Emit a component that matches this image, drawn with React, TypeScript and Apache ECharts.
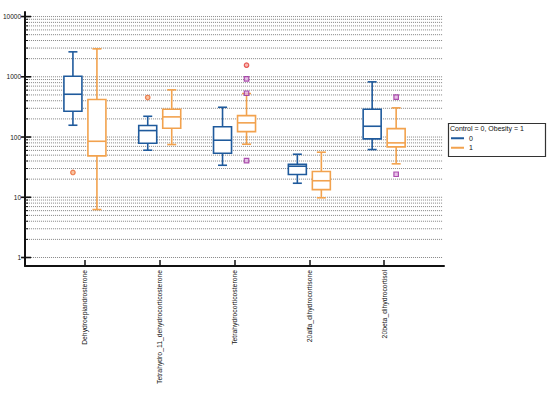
import React, { useEffect, useRef } from "react";
import * as echarts from "echarts";

const categories = [
  "Dehydroepiandrosterone",
  "Tetrahydro_11_dehydrocorticosterone",
  "Tetrahydrocorticosterone",
  "20alfa_dihydrocortisone",
  "20beta_dihydrocortisol",
];
const categoryPositions = [1, 2, 3, 4, 5];

// [min, Q1, median, Q3, max]
const controlStats = [
  [157, 268, 513, 1021, 2595],
  [60.4, 78.9, 128, 155, 221],
  [34.0, 53.8, 88.5, 148, 312],
  [17.1, 23.9, 32.8, 35.4, 51.8],
  [62, 93.3, 151, 289, 824],
];
const obesityStats = [
  [6.26, 48.7, 85, 419, 2910],
  [75, 140, 216, 289, 607],
  [76, 123, 172, 227, 527],
  [9.8, 13.4, 18.8, 26.8, 56],
  [35.9, 68.7, 80, 138, 305],
];

// outliers [category position, value]
const controlOutliers = [
  [1, 25.8],
  [2, 453],
];
const obesityFarOutliers = [[3, 1560]];
const obesityOutliers = [
  [3, 925],
  [3, 533],
  [3, 40.6],
  [5, 458],
  [5, 24.1],
];

const gridValues = [
  1, 2, 3, 4, 5, 6, 7, 8, 9,
  10, 20, 30, 40, 50, 60, 70, 80, 90,
  100, 200, 300, 400, 500, 600, 700, 800, 900,
  1000, 2000, 3000, 4000, 5000, 6000, 7000, 8000, 9000,
  10000,
];

const X_MIN = 0.2;
const X_MAX = 5.8;
const BLUE = "#1F5A9C";
const ORANGE = "#F2A24E";
const FONT = "Liberation Sans";

function isDecade(v: number) {
  const l = Math.log10(v);
  return Math.abs(l - Math.round(l)) < 1e-6;
}

function boxRenderer(color: string, pxOffset: number) {
  return (params: any, api: any) => {
    const x = api.value(0);
    const vals = [1, 2, 3, 4, 5].map((i) => api.value(i));
    const cx = api.coord([x, vals[2]])[0] + pxOffset;
    const y = vals.map((v: number) => api.coord([x, v])[1]);
    const hw = 9;
    const cw = 4.5;
    const style = { stroke: color, lineWidth: 1.6, fill: "none" };
    return {
      type: "group",
      children: [
        { type: "line", shape: { x1: cx, y1: y[3], x2: cx, y2: y[4] }, style },
        { type: "line", shape: { x1: cx, y1: y[1], x2: cx, y2: y[0] }, style },
        { type: "line", shape: { x1: cx - cw, y1: y[4], x2: cx + cw, y2: y[4] }, style },
        { type: "line", shape: { x1: cx - cw, y1: y[0], x2: cx + cw, y2: y[0] }, style },
        {
          type: "rect",
          shape: { x: cx - hw, y: y[3], width: hw * 2, height: y[1] - y[3] },
          style: { stroke: color, lineWidth: 1.6, fill: "#fff" },
        },
        { type: "line", shape: { x1: cx - hw, y1: y[2], x2: cx + hw, y2: y[2] }, style },
      ],
    };
  };
}

export default function App() {
  const ref = useRef<HTMLDivElement>(null);
  useEffect(() => {
    document.body.style.margin = "0";
    if (!ref.current) return;
    const chart = echarts.init(ref.current, null, { renderer: "svg" });
    const option: any = {
      animation: false,
      backgroundColor: "#fff",
      textStyle: { fontFamily: FONT },
      grid: { left: 24, right: 106, top: 12, bottom: 129 },
      xAxis: {
        type: "value",
        min: X_MIN,
        max: X_MAX,
        axisLine: { show: true, lineStyle: { color: "#111", width: 2 } },
        axisTick: {
          show: true,
          inside: true,
          length: 6,
          customValues: categoryPositions,
          lineStyle: { color: "#111", width: 1.5 },
        },
        axisLabel: {
          show: true,
          customValues: categoryPositions,
          rotate: 90,
          margin: 4,
          fontSize: 6.8,
          color: "#111",
          fontFamily: FONT,
          formatter: (v: number) => categories[Math.round(v) - 1] || "",
        },
        splitLine: { show: false },
      },
      yAxis: {
        type: "log",
        logBase: 10,
        min: 0.723,
        max: 11900,
        axisLine: { show: true, lineStyle: { color: "#111", width: 2 } },
        axisTick: { show: false },
        splitLine: { show: false },
        minorTick: { show: false },
        axisLabel: {
          fontSize: 6.5,
          margin: 4,
          color: "#111",
          fontFamily: FONT,
          formatter: (v: number) => (isDecade(v) ? String(Math.round(v)) : ""),
        },
      },
      legend: {
        data: [
          { name: "0", icon: "rect" },
          { name: "1", icon: "rect" },
        ],
        orient: "vertical",
        left: 451,
        top: 133.5,
        itemWidth: 13,
        itemHeight: 2,
        itemGap: 0,
        padding: 0,
        textStyle: { fontSize: 7, lineHeight: 9.5, color: "#111", fontFamily: FONT },
        selectedMode: false,
      },
      graphic: [
        {
          type: "rect",
          left: 446,
          top: 121,
          shape: { width: 97, height: 33 },
          style: { fill: "none", stroke: "#333", lineWidth: 1.2 },
          silent: true,
        },
        {
          type: "text",
          left: 450,
          top: 125,
          style: {
            text: "Control = 0, Obesity = 1",
            fontSize: 7,
            fontFamily: FONT,
            fill: "#111",
          },
          silent: true,
        },
      ],
      series: [
        {
          name: "grid",
          type: "custom",
          silent: true,
          z: 1,
          data: gridValues.map((v) => [X_MIN, v]),
          encode: { x: 0, y: 1 },
          renderItem: (params: any, api: any) => {
            const v = api.value(1);
            const cs = params.coordSys;
            const y = api.coord([X_MIN, v])[1];
            const major = isDecade(v);
            return {
              type: "group",
              children: [
                {
                  type: "line",
                  shape: { x1: cs.x, y1: y, x2: cs.x + cs.width - 1, y2: y },
                  style: { stroke: "#666", lineWidth: 0.8, lineDash: [1, 1] },
                },
                {
                  type: "line",
                  shape: {
                    x1: cs.x - (major ? 4 : 1),
                    y1: y,
                    x2: cs.x + (major ? 6 : 3),
                    y2: y,
                  },
                  style: { stroke: "#111", lineWidth: major ? 1.6 : 1 },
                },
              ],
            };
          },
        },
        {
          name: "0",
          type: "custom",
          z: 3,
          itemStyle: { color: BLUE },
          data: categoryPositions.map((p, i) => [p, ...controlStats[i]]),
          encode: { x: 0, y: [1, 2, 3, 4, 5] },
          renderItem: boxRenderer(BLUE, -12),
        },
        {
          name: "1",
          type: "custom",
          z: 3,
          itemStyle: { color: ORANGE },
          data: categoryPositions.map((p, i) => [p, ...obesityStats[i]]),
          encode: { x: 0, y: [1, 2, 3, 4, 5] },
          renderItem: boxRenderer(ORANGE, 12),
        },
        {
          name: "controlOutliers",
          type: "scatter",
          z: 4,
          symbol: "circle",
          symbolSize: 4.5,
          symbolOffset: [-12, 0],
          itemStyle: { color: "#F7B487", borderColor: "#E8642E", borderWidth: 1.2 },
          data: controlOutliers,
        },
        {
          name: "obesityFarOutliers",
          type: "scatter",
          z: 4,
          symbol: "circle",
          symbolSize: 4.5,
          symbolOffset: [12, 0],
          itemStyle: { color: "#F6A6A0", borderColor: "#E23A34", borderWidth: 1.2 },
          data: obesityFarOutliers,
        },
        {
          name: "obesityOutliers",
          type: "scatter",
          z: 4,
          symbol: "rect",
          symbolSize: 4.5,
          symbolOffset: [12, 0],
          itemStyle: { color: "#E2B2E2", borderColor: "#9A2A9C", borderWidth: 1.2 },
          data: obesityOutliers,
        },
      ],
    };
    chart.setOption(option);
    return () => chart.dispose();
  }, []);
  return <div ref={ref} style={{ width: 550, height: 395 }} />;
}
